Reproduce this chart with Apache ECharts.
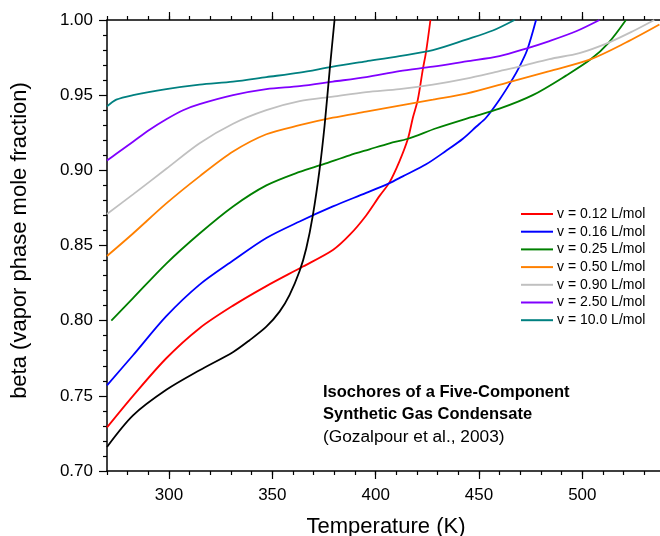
<!DOCTYPE html>
<html>
<head>
<meta charset="utf-8">
<script src="https://cdn.jsdelivr.net/npm/echarts@6/dist/echarts.min.js"></script>
<style>html,body{margin:0;padding:0;background:#fff}#c{width:660px;height:536px}</style>
</head>
<body>
<div id="c"></div>
<script>
// ---- data (Temperature K, beta) ----
var xMajorTicks = [300, 350, 400, 450, 500];
var seriesNames = ['v = 0.12 L/mol','v = 0.16 L/mol','v = 0.25 L/mol','v = 0.50 L/mol','v = 0.90 L/mol','v = 2.50 L/mol','v = 10.0 L/mol'];
var seriesColors = ['#ff0000','#0000ff','#008000','#ff8000','#c0c0c0','#8000ff','#008080'];

var black = [[270,0.716],[282.6,0.737],[298.7,0.754],[314.8,0.767],[330.9,0.779],[339,0.787],[347.1,0.796],[353.5,0.806],[358.3,0.817],[363.2,0.833],[366.4,0.848],[369.6,0.870],[372.9,0.901],[375.3,0.930],[377.7,0.966],[380.1,1.0]];
var v012 = [[270,0.729],[282.6,0.750],[298.7,0.775],[314.8,0.795],[331,0.810],[347.1,0.823],[364.8,0.836],[379.3,0.847],[387.4,0.857],[395.4,0.870],[401.9,0.883],[406.7,0.892],[411.5,0.906],[415.6,0.921],[418,0.935],[420.4,0.947],[422.8,0.967],[424.4,0.979],[426.5,1.0]];
var v016 = [[270,0.757],[282.6,0.777],[298.7,0.803],[314.8,0.824],[331,0.840],[347.1,0.855],[363.2,0.866],[379.3,0.876],[395.4,0.885],[406.7,0.8915],[413.1,0.896],[424.4,0.904],[434.1,0.913],[442.2,0.921],[448.6,0.929],[453.4,0.935],[459.9,0.947],[465.5,0.959],[469.6,0.969],[473.3,0.980],[477.6,1.0]];
var v025 = [[272.1,0.800],[282.6,0.815],[298.7,0.838],[314.8,0.858],[331,0.876],[347.1,0.890],[363.2,0.899],[374.5,0.904],[387.4,0.910],[397,0.914],[406.7,0.918],[415.6,0.921],[429.3,0.928],[445.4,0.935],[459.9,0.941],[476,0.950],[492.1,0.963],[504.2,0.974],[512.8,0.985],[521.1,1.0]];
var v050 = [[270,0.843],[282.6,0.858],[298.7,0.878],[314.8,0.896],[331,0.9125],[347.1,0.924],[363.2,0.930],[379.3,0.935],[395.4,0.939],[411.5,0.943],[427.7,0.947],[443.8,0.951],[465.5,0.959],[484.1,0.966],[504.2,0.974],[521.1,0.985],[537.3,0.997]];
var v090 = [[270,0.871],[282.6,0.884],[298.7,0.901],[314.8,0.918],[331,0.931],[347.1,0.940],[363.2,0.946],[379.3,0.949],[395.4,0.952],[411.5,0.954],[427.7,0.957],[443.8,0.961],[459.9,0.966],[469.6,0.969],[484.1,0.974],[498.6,0.978],[512.8,0.985],[524.4,0.9925],[534.8,1.0]];
var v250 = [[270,0.9065],[274.5,0.911],[282.6,0.919],[290.6,0.927],[298.7,0.934],[306.8,0.940],[314.8,0.944],[331,0.950],[347.1,0.954],[363.2,0.956],[379.3,0.959],[395.4,0.962],[411.5,0.966],[427.7,0.969],[443.8,0.9725],[459.9,0.976],[472.8,0.981],[484.1,0.986],[497,0.9925],[508.3,1.0]];
var v100 = [[270,0.9425],[274.5,0.947],[282.6,0.950],[298.7,0.954],[314.8,0.957],[331,0.959],[347.1,0.962],[363.2,0.965],[379.3,0.969],[395.4,0.9725],[411.5,0.976],[427.7,0.980],[443.8,0.987],[456.7,0.993],[467.2,1.0]];
var annotationLines = ['Isochores of a Five-Component', 'Synthetic Gas Condensate', '(Gozalpour et al., 2003)'];

var FONT = '"Liberation Sans", Arial, Helvetica, sans-serif';
var chart = echarts.init(document.getElementById('c'), null, {renderer: 'canvas'});

var allData = [v012, v016, v025, v050, v090, v250, v100];
var series = allData.map(function (d, i) {
  return {
    name: seriesNames[i], type: 'line', data: d, showSymbol: false, symbol: 'none',
    smooth: 0.3,
    lineStyle: {color: seriesColors[i], width: 1.8}, itemStyle: {color: seriesColors[i]},
    z: 3
  };
});
series.push({
  name: 'envelope', type: 'line', data: black, showSymbol: false, symbol: 'none',
  smooth: 0.3,
  lineStyle: {color: '#000', width: 1.8}, itemStyle: {color: '#000'}, z: 3
});

var axisLineStyle = {show: true, lineStyle: {color: '#000', width: 1.5}};
var minorX = {
  type: 'value', min: 270, max: 540, interval: 10,
  axisLine: axisLineStyle,
  axisTick: {show: true, length: 4, lineStyle: {color: '#000', width: 1.2}},
  axisLabel: {show: false}, splitLine: {show: false}
};
function majorX(pos, withLabel) {
  var o = {
    type: 'value', min: 270, max: 540, position: pos,
    axisLine: {show: false},
    axisTick: {show: true, length: 8, customValues: xMajorTicks, lineStyle: {color: '#000', width: 1.2}},
    axisLabel: {show: withLabel, customValues: xMajorTicks, color: '#000', fontSize: 17, fontFamily: FONT, margin: 16},
    splitLine: {show: false}
  };
  if (withLabel) {
    o.name = 'Temperature (K)';
    o.nameLocation = 'middle';
    o.nameGap = 45;
    o.nameTextStyle = {color: '#000', fontSize: 22, fontFamily: FONT};
  }
  return o;
}
var xTop = JSON.parse(JSON.stringify(minorX)); xTop.position = 'top';
var xBottom = JSON.parse(JSON.stringify(minorX)); xBottom.position = 'bottom';

chart.setOption({
  animation: false,
  backgroundColor: '#fff',
  grid: {left: 107, top: 20, width: 558, height: 451, containLabel: false, outerBoundsMode: 'none'},
  legend: {
    data: seriesNames, orient: 'vertical', left: 521, top: 207,
    itemWidth: 32, itemHeight: 2, itemGap: 3.7,
    icon: 'rect',
    textStyle: {color: '#000', fontSize: 14, fontFamily: FONT, lineHeight: 14, padding: [0, 0, 0, -1]},
    padding: 0, selectedMode: false
  },
  xAxis: [xBottom, majorX('bottom', true), xTop, majorX('top', false)],
  yAxis: [{
    type: 'value', min: 0.70, max: 1.00, interval: 0.05,
    axisLine: axisLineStyle,
    axisTick: {show: true, length: 8, lineStyle: {color: '#000', width: 1.2}},
    minorTick: {show: true, splitNumber: 5, length: 4, lineStyle: {color: '#000', width: 1.2}},
    axisLabel: {color: '#000', fontSize: 17, fontFamily: FONT, margin: 14, formatter: function (v) { return v.toFixed(2); }},
    splitLine: {show: false},
    name: 'beta (vapor phase mole fraction)', nameLocation: 'middle', nameGap: 76,
    nameTextStyle: {color: '#000', fontSize: 22, fontFamily: FONT, padding: [0, 0, 0, 10]}
  }],
  series: series,
  graphic: annotationLines.map(function (t, i) {
    return {
      type: 'text', x: 323, y: 392 + i * 22.5,
      style: {text: t, fill: '#000', font: (i < 2 ? 'bold 16.5px ' : '17.3px ') + FONT, verticalAlign: 'middle', textVerticalAlign: 'middle'}
    };
  })
});
</script>
</body>
</html>
